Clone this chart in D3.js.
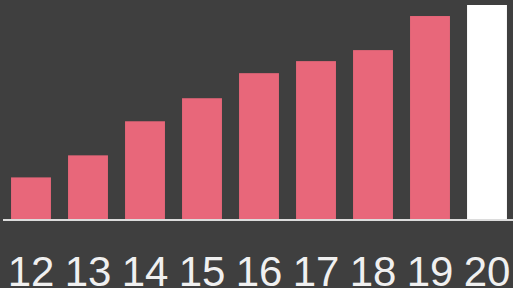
<!DOCTYPE html>
<html>
<head>
<meta charset="utf-8">
<script src="https://cdn.jsdelivr.net/npm/d3@7"></script>
<style>
  html, body { margin: 0; padding: 0; background: #3f3f3f; }
  svg { display: block; }
</style>
</head>
<body>
<script>
const categories = ["12", "13", "14", "15", "16", "17", "18", "19", "20"];
const values = [42, 64, 98, 121, 146, 158, 169, 203, 214];
const highlight = ["20"];

const W = 513, H = 288;
const baseY = 219.5;

const svg = d3.select("body").append("svg")
  .attr("width", W).attr("height", H);

svg.append("rect").attr("width", W).attr("height", H).attr("fill", "#3f3f3f");

const x = d3.scaleBand().domain(categories).range([2.5, 515.5])
  .paddingInner(0.3).paddingOuter(0.15);
const y = d3.scaleLinear().domain([0, 214]).range([baseY, 5]);

svg.append("g").selectAll("rect")
  .data(categories)
  .join("rect")
  .attr("x", d => x(d))
  .attr("width", x.bandwidth())
  .attr("y", (d, i) => y(values[i]))
  .attr("height", (d, i) => baseY - y(values[i]))
  .attr("fill", d => highlight.includes(d) ? "#ffffff" : "#e8677a");

svg.append("line")
  .attr("x1", 3).attr("x2", W)
  .attr("y1", baseY + 0.5).attr("y2", baseY + 0.5)
  .attr("stroke", "#dcdcdc").attr("stroke-width", 2);

const xAxis = d3.axisBottom(x).tickSize(0).tickPadding(0);
const ax = svg.append("g").attr("transform", `translate(0,${baseY})`).call(xAxis);
ax.select(".domain").remove();
ax.selectAll("text")
  .attr("y", 66)
  .attr("dy", 0)
  .attr("fill", "#f0f0f0")
  .style("font-family", "'Liberation Sans', Arial, sans-serif")
  .style("font-size", "42px");
</script>
</body>
</html>
